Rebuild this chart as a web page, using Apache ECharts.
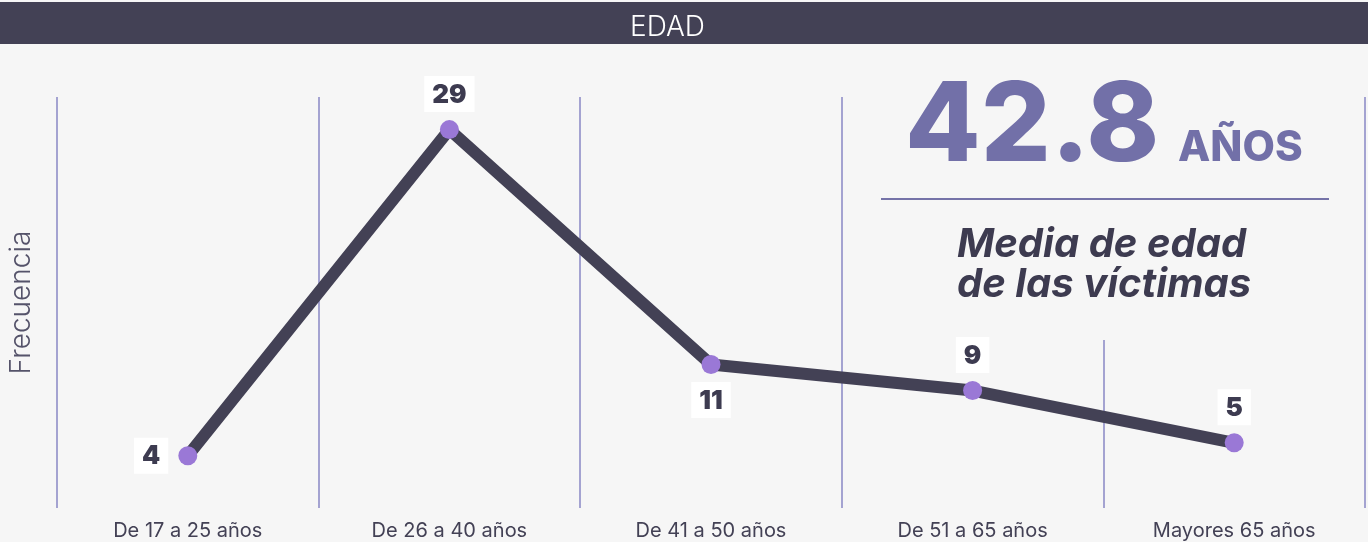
<!DOCTYPE html>
<html>
<head>
<meta charset="utf-8">
<script src="https://cdn.jsdelivr.net/npm/echarts@6/dist/echarts.min.js"></script>
<style>
  html, body { margin: 0; padding: 0; background: #f6f6f6; }
  #edad { width: 1368px; height: 542px; }
</style>
</head>
<body>
<div id="edad"></div>
<script>
// datos de la gráfica
const categorias = ['De 17 a 25 años', 'De 26 a 40 años', 'De 41 a 50 años', 'De 51 a 65 años', 'Mayores 65 años'];
const frecuencia = [4, 29, 11, 9, 5];
const posEtiqueta = ['left', 'top', 'bottom', 'top', 'top'];
const mediaEdad = '42.8';

const chart = echarts.init(document.getElementById('edad'));

const option = {
    backgroundColor: '#f6f6f6',
    textStyle: { fontFamily: 'Inter' },
    title: {
        text: 'EDAD',
        left: 625,
        top: 9,
        textStyle: { color: '#ffffff', fontSize: 28, fontWeight: 300, fontFamily: 'Inter' }
    },
    grid: { left: 57, right: 3, top: 97, bottom: 34, outerBoundsMode: 'none' },
    xAxis: {
        type: 'category',
        data: categorias,
        axisLine: { show: false },
        axisTick: { show: false },
        axisLabel: { color: '#434155', fontSize: 20, margin: 13, fontFamily: 'Inter' },
        splitLine: { show: true, interval: 0, lineStyle: { color: '#8987c4', width: 1.5 } }
    },
    yAxis: {
        type: 'value',
        min: 0,
        max: 31.5,
        name: 'Frecuencia',
        nameLocation: 'middle',
        nameGap: 21,
        nameTextStyle: { color: '#55536a', fontSize: 28, fontWeight: 300, fontFamily: 'Inter' },
        axisLine: { show: false },
        axisTick: { show: false },
        axisLabel: { show: false },
        splitLine: { show: false }
    },
    graphic: [
        { type: 'rect', z: -1, shape: { x: 0, y: 2, width: 1368, height: 42 }, style: { fill: '#434155' } },
        // tapa la línea vertical detrás del texto de la media
        { type: 'rect', z: 1, shape: { x: 1080, y: 60, width: 50, height: 280 }, style: { fill: '#f6f6f6' } },
        {
            type: 'text', z: 3, left: 905, top: 73,
            style: { text: mediaEdad, fill: '#7270a8', font: '800 110px Inter' }
        },
        {
            type: 'text', z: 3, left: 1178, top: 127,
            style: { text: 'AÑOS', fill: '#7270a8', font: '800 42px Inter' }
        },
        { type: 'line', z: 3, shape: { x1: 881, y1: 199, x2: 1329, y2: 199 }, style: { stroke: '#7573a8', lineWidth: 2 } },
        {
            type: 'text', z: 3, left: 957, top: 225,
            style: {
                text: 'Media de edad\nde las víctimas', fill: '#3d3b50',
                font: 'italic 700 40px Inter', align: 'center', lineHeight: 40
            }
        }
    ],
    series: [{
        type: 'line',
        data: frecuencia.map((v, i) => ({
            value: v,
            label: { position: posEtiqueta[i], distance: posEtiqueta[i] === 'left' ? 10 : 8 }
        })),
        z: 2,
        lineStyle: { color: '#434155', width: 12 },
        symbol: 'circle',
        symbolSize: 19,
        itemStyle: { color: '#9a78d6' },
        label: {
            show: true,
            color: '#3d3b50',
            fontSize: 26,
            fontWeight: 900,
            fontFamily: 'Inter',
            backgroundColor: '#ffffff',
            padding: [6, 8, 4, 8]
        }
    }]
};

chart.setOption(option);
window.onresize = chart.resize;
</script>
</body>
</html>
